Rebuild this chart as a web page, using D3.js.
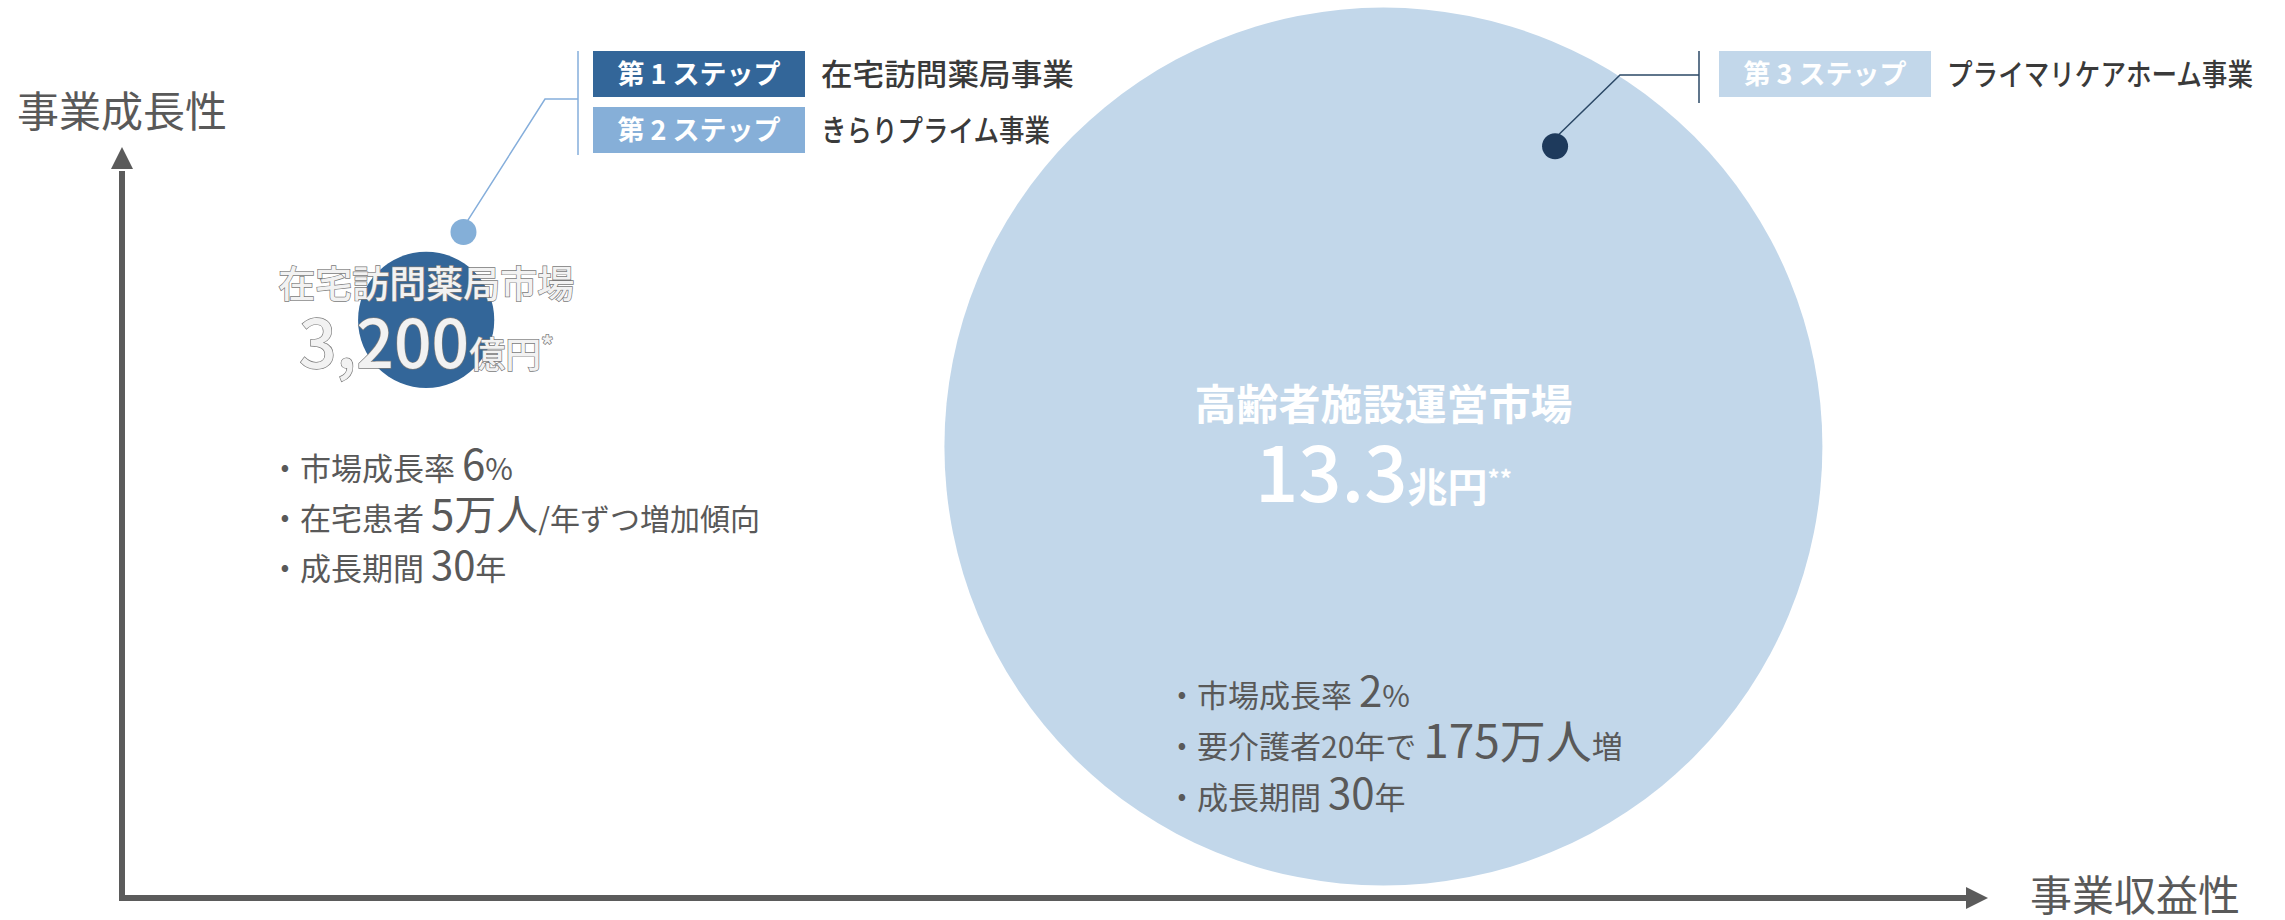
<!DOCTYPE html>
<html><head><meta charset="utf-8">
<script src="https://cdn.jsdelivr.net/npm/d3@7"></script>
<style>
html,body{margin:0;padding:0;background:#fff;}
svg{display:block;font-family:"Noto Sans CJK JP","Noto Sans",sans-serif;}
</style></head>
<body>
<svg id="chart" width="2285" height="920"></svg>
<script>
// ---- data ----
const markets = ["在宅訪問薬局市場", "高齢者施設運営市場"];
const marketSize = [3200, 133000];               // 億円
const sizeNum = ["3,200", "13.3"];
const sizeUnit = ["億円", "兆円"];
const sizeNote = ["*", "**"];
const profitability = [1.63, 6.76];              // conceptual x position (事業収益性)
const growth = [7.76, 6.06];                     // conceptual y position (事業成長性)
const marketColors = ["#336699", "#c2d7ea"];

const stepLabels = ["第 1 ステップ", "第 2 ステップ", "第 3 ステップ"];
const stepNames = ["在宅訪問薬局事業", "きらりプライム事業", "プライマリケアホーム事業"];
const stepNameWidths = [253, 229, 306];
const stepColors = ["#336699", "#86afd8", "#c2d7ea"];
const stepDotX = [1.83, 7.68];
const stepDotY = [8.94, 10.09];
const stepDotColors = ["#84afd8", "#1e3a5c"];

const bulletsLeft = [
  [["市場成長率 ", 31], ["6", 42], ["%", 30]],
  [["在宅患者 ", 31], ["5万人", 42], ["/年ずつ増加傾向", 30]],
  [["成長期間 ", 31], ["30", 40], ["年", 31]]
];
const bulletsRight = [
  [["市場成長率 ", 31], ["2", 42], ["%", 30]],
  [["要介護者", 31], ["20", 30], ["年で ", 31], ["175万人", 46], ["増", 31]],
  [["成長期間 ", 31], ["30", 42], ["年", 31]]
];
const axisTitles = ["事業成長性", "事業収益性"];

// ---- scales ----
const svg = d3.select("#chart");
const x = d3.scaleLinear().domain([0, 10]).range([122, 1988]);
const y = d3.scaleLinear().domain([0, 10]).range([898, 153]);
const r = d3.scaleSqrt().domain([0, marketSize[1]]).range([0, 439]);

const axisColor = "#5b5b5b";
const textGray = "#595959";

// market circles (area ∝ market size)
svg.selectAll("circle.market").data(markets).join("circle")
  .attr("class", "market")
  .attr("cx", (d, i) => x(profitability[i]))
  .attr("cy", (d, i) => y(growth[i]))
  .attr("r", (d, i) => r(marketSize[i]))
  .attr("fill", (d, i) => marketColors[i]);

// axes
svg.append("line").attr("x1", x(0)).attr("y1", y(0) + 3).attr("x2", x(0)).attr("y2", y(10) + 18)
  .attr("stroke", axisColor).attr("stroke-width", 6);
svg.append("line").attr("x1", x(0) - 3).attr("y1", y(0)).attr("x2", x(10) - 18).attr("y2", y(0))
  .attr("stroke", axisColor).attr("stroke-width", 6);
svg.append("path")
  .attr("d", `M${x(0)},${y(10) - 6} L${x(0) - 11},${y(10) + 16} L${x(0) + 11},${y(10) + 16} Z`)
  .attr("fill", axisColor);
svg.append("path")
  .attr("d", `M${x(10)},${y(0)} L${x(10) - 22},${y(0) - 11} L${x(10) - 22},${y(0) + 11} Z`)
  .attr("fill", axisColor);

svg.append("text").text(axisTitles[0]).attr("x", 17).attr("y", 127)
  .attr("font-size", 42).attr("fill", textGray);
svg.append("text").text(axisTitles[1]).attr("x", 2030).attr("y", 911)
  .attr("font-size", 42).attr("fill", textGray);

// market labels
markets.forEach((m, i) => {
  const cx = x(profitability[i]), cy = y(growth[i]);
  const outlined = i === 0;
  const t1 = svg.append("text").text(m)
    .attr("x", cx).attr("y", i === 0 ? cy - 22 : cy - 27)
    .attr("text-anchor", "middle")
    .attr("font-size", i === 0 ? 37 : 42)
    .attr("font-weight", i === 0 ? 500 : 700)
    .attr("fill", outlined ? "#f2f2f2" : "#ffffff");
  const t2 = svg.append("text")
    .attr("x", cx).attr("y", i === 0 ? cy + 48 : cy + 55)
    .attr("text-anchor", "middle")
    .attr("fill", outlined ? "#f2f2f2" : "#ffffff");
  t2.append("tspan").text(sizeNum[i]).attr("font-size", i === 0 ? 66 : 76).attr("font-weight", 500);
  t2.append("tspan").text(sizeUnit[i]).attr("font-size", i === 0 ? 36 : 40).attr("font-weight", i === 0 ? 500 : 700);
  t2.append("tspan").text(sizeNote[i]).attr("font-size", 24).attr("dy", -14).attr("font-weight", 700);
  if (outlined) {
    [t1, t2].forEach(t => t.attr("stroke", "#7a7a7a").attr("stroke-width", 1.4).attr("paint-order", "stroke"));
  }
});

// bullets
function bullets(list, bx, by0, gap) {
  list.forEach((parts, k) => {
    const yy = by0 + k * gap;
    svg.append("text").text("•").attr("x", bx).attr("y", yy - 4)
      .attr("text-anchor", "middle").attr("font-size", 26).attr("fill", textGray);
    const t = svg.append("text").attr("x", bx + 15).attr("y", yy).attr("fill", textGray);
    parts.forEach(p => t.append("tspan").text(p[0]).attr("font-size", p[1]));
  });
}
bullets(bulletsLeft, 285, 480, 50);
bullets(bulletsRight, 1182, 707, 51);

// step dots & leader lines
const leaders = [
  { color: "#85aedb", pts: [[x(stepDotX[0]) + 4, y(stepDotY[0]) - 11], [545, 99], [578, 99]], bar: [51, 155], barX: 578 },
  { color: "#2b4866", pts: [[x(stepDotX[1]) + 3, y(stepDotY[1]) - 11], [1620, 75], [1699, 75]], bar: [51, 103], barX: 1699 }
];
leaders.forEach(l => {
  svg.append("path").attr("d", d3.line()(l.pts)).attr("fill", "none")
    .attr("stroke", l.color).attr("stroke-width", 1.5);
  svg.append("line").attr("x1", l.barX).attr("x2", l.barX).attr("y1", l.bar[0]).attr("y2", l.bar[1])
    .attr("stroke", l.color).attr("stroke-width", 1.5);
});
svg.selectAll("circle.stepdot").data(stepDotX).join("circle")
  .attr("class", "stepdot")
  .attr("cx", (d, i) => x(d)).attr("cy", (d, i) => y(stepDotY[i]))
  .attr("r", 13).attr("fill", (d, i) => stepDotColors[i]);

// step boxes
const boxPos = [[593, 51], [593, 107], [1719, 51]];
stepLabels.forEach((s, i) => {
  const [bx, by] = boxPos[i];
  svg.append("rect").attr("x", bx).attr("y", by).attr("width", 212).attr("height", 46)
    .attr("fill", stepColors[i]);
  svg.append("text").text(s).attr("x", bx + 106).attr("y", by + 33)
    .attr("text-anchor", "middle").attr("font-size", 27).attr("font-weight", 700)
    .attr("fill", "#ffffff");
  svg.append("text").text(stepNames[i]).attr("x", bx + 228).attr("y", by + 34)
    .attr("font-size", 30).attr("font-weight", 500).attr("fill", "#3a3a3a")
    .attr("textLength", stepNameWidths[i]).attr("lengthAdjust", "spacingAndGlyphs");
});
</script>
</body></html>
